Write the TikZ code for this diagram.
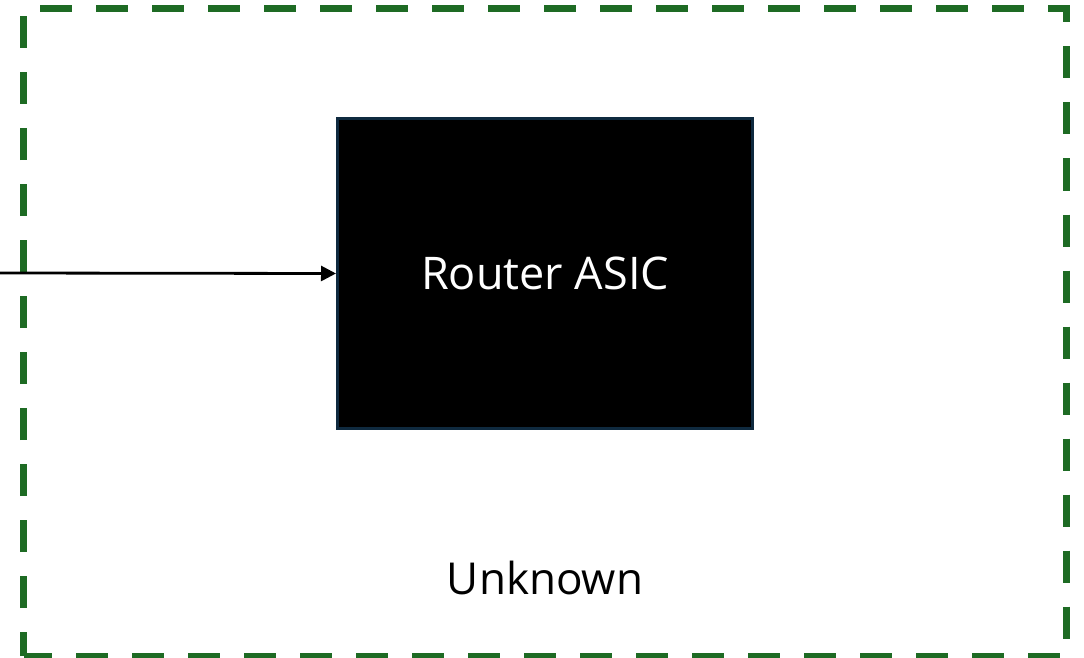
\documentclass[tikz,border=0pt]{standalone}
\usepackage{fontspec}
\setmainfont{Open Sans}
\usetikzlibrary{arrows.meta}
\definecolor{frameg}{HTML}{1E6B24}
\definecolor{boxedge}{HTML}{0F2A3F}
\tikzset{
  frame/.style={draw=frameg, line width=7pt, dash pattern=on 32pt off 24pt, dash phase=8pt},
  asic/.style={draw=boxedge, fill=black, line width=3pt, minimum width=415pt, minimum height=310pt, inner sep=0pt, text=white, font=\fontsize{45}{52}\selectfont},
  lbl/.style={font=\fontsize{44}{52}\selectfont, inner sep=0pt},
  conn/.style={draw=black, line width=2.8pt, -{Triangle[length=15pt,width=15pt]}}
}
\begin{document}
\begin{tikzpicture}[x=1pt,y=-1pt]
\useasboundingbox (0,0) rectangle (1084,658);
\draw[frame] (23.5,656) -- (23.5,8.5) -- (1066,8.5) -- (1066,656) -- cycle;
\node[asic] (asic) at (545,273.5) {Router ASIC};
\coordinate (src) at (0,273);
\draw[conn] (src) -- (asic.west);
\node[lbl] (unk) at (545,578) {Unknown};
\end{tikzpicture}
\end{document}
